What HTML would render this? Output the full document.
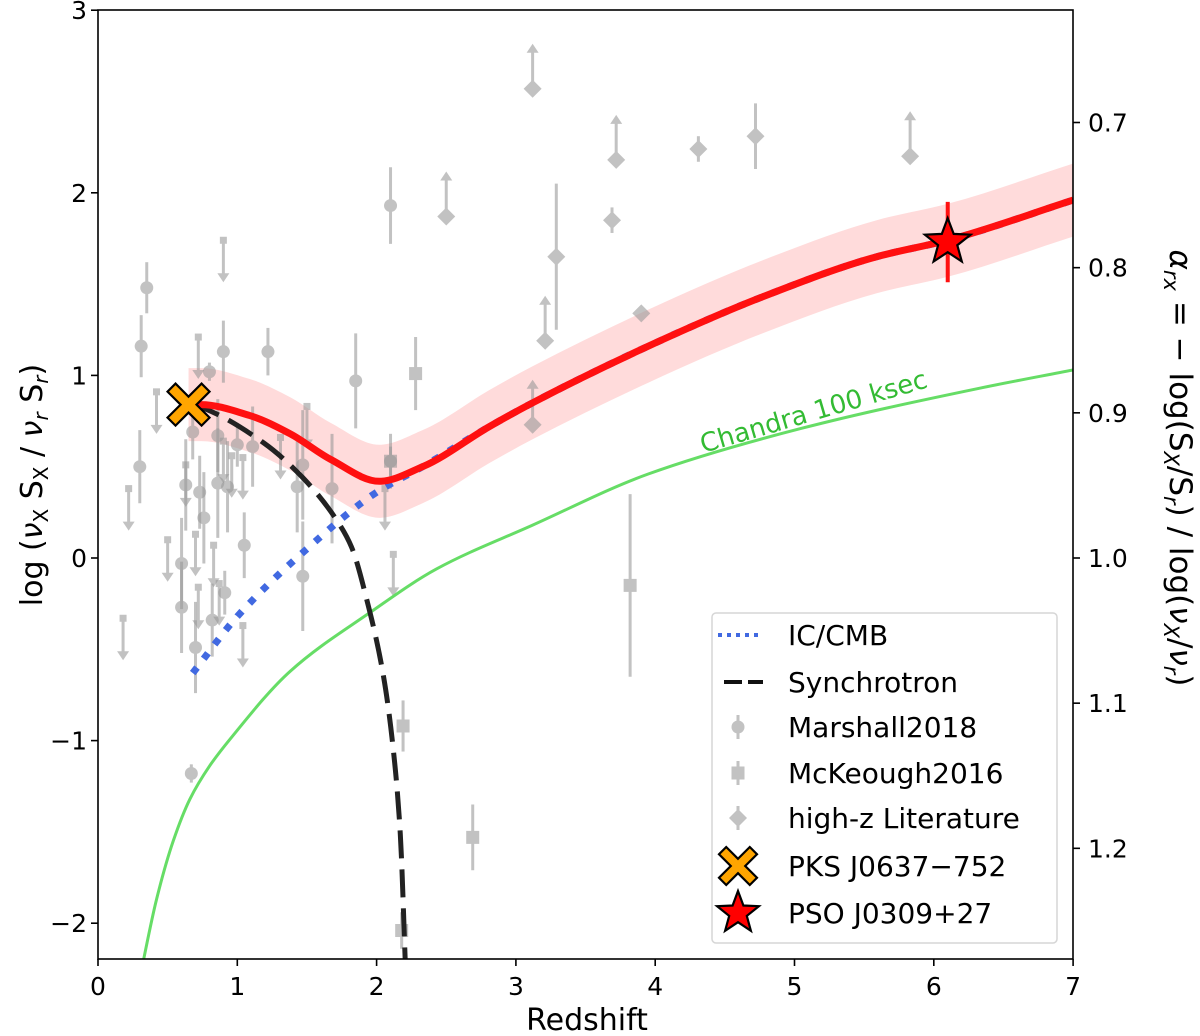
<!DOCTYPE html>
<html><head><meta charset="utf-8"><title>Jet X-ray to radio ratio vs redshift</title>
<style>
html,body{margin:0;padding:0;background:#fff;}
svg{display:block;font-family:"DejaVu Sans","Liberation Sans",sans-serif;}
</style></head>
<body>
<svg id="chart" width="1200" height="1036" viewBox="0 0 1200 1036" xmlns="http://www.w3.org/2000/svg">
  <defs><clipPath id="plotclip"><rect x="98" y="10" width="975" height="949"/></clipPath></defs>
  <g id="band" clip-path="url(#plotclip)"></g>
  <g id="points" clip-path="url(#plotclip)"></g>
  <g id="lines" clip-path="url(#plotclip)"></g>
  <g id="axes"></g>
  <g id="legend"></g>
</svg>
<script>
// ---------- data ----------
const modelZ   = [0.65,0.74,1.09,1.38,1.67,2.02,2.33,2.81,3.12,3.95,4.77,5.59,6.1,7.0];
const modelY   = [0.84,0.84,0.78,0.68,0.54,0.42,0.50,0.72,0.85,1.16,1.43,1.65,1.74,1.96];
const bandHalf = 0.2;
const icZ      = [0.68,1.0,1.5,2.0,2.33,2.81,3.12,3.95,4.77,5.59,6.1,7.0];
const icY      = [-0.63,-0.32,0.05,0.36,0.50,0.72,0.85,1.16,1.43,1.65,1.74,1.96];
const syncZ    = [0.68,0.76,1.19,1.47,1.72,1.82,1.93,2.05,2.12,2.17,2.21];
const syncY    = [0.84,0.82,0.63,0.44,0.20,0.06,-0.23,-0.65,-1.05,-1.51,-2.3];
const chandraZ = [0.30,0.42,0.54,0.66,0.80,0.95,1.38,1.95,2.43,3.12,3.95,5.05,6.33,7.0];
const chandraY = [-2.3,-1.87,-1.55,-1.32,-1.14,-0.99,-0.62,-0.30,-0.06,0.18,0.46,0.71,0.93,1.03];
// Marshall2018 detections
const marZ   = [0.35,0.31,0.90,1.22,0.80,1.85,0.30,0.68,0.86,1.00,1.11,1.47,2.10,0.63,0.73,0.86,0.93,1.43,1.68,0.76,1.05,0.60,1.47,0.91,0.60,0.82,0.70,0.67,2.10];
const marY   = [1.48,1.16,1.13,1.13,1.02,0.97,0.50,0.69,0.67,0.62,0.61,0.51,0.53,0.40,0.36,0.41,0.39,0.39,0.38,0.22,0.07,-0.03,-0.10,-0.19,-0.27,-0.34,-0.49,-1.18,1.93];
const marErr = [0.14,0.17,0.17,0.13,0.05,0.26,0.20,0.15,0.20,0.12,0.22,0.30,0.15,0.25,0.20,0.30,0.25,0.25,0.30,0.25,0.18,0.25,0.30,0.12,0.25,0.20,0.25,0.05,0.21];
// Marshall2018 upper limits
const limZ = [0.90,0.42,0.72,1.50,1.31,0.63,0.22,1.04,0.50,0.70,0.83,0.87,0.72,1.04,0.18,2.06,2.12,0.96,0.90];
const limY = [1.74,0.91,1.21,0.83,0.66,0.51,0.38,0.55,0.10,0.13,0.07,-0.14,-0.16,-0.37,-0.33,0.38,0.02,0.56,0.64];
// McKeough2016
const mckZ   = [2.28,2.19,2.69,2.18,3.82,2.10];
const mckY   = [1.01,-0.92,-1.53,-2.04,-0.15,0.53];
const mckErr = [0.20,0.14,0.18,0.10,0.50,0.08];
// high-z literature
const hzZ   = [3.12,2.50,3.72,4.31,4.72,5.83,3.69,3.29,3.90,3.21,3.12];
const hzY   = [2.57,1.87,2.18,2.24,2.31,2.20,1.85,1.65,1.34,1.19,0.73];
const hzErr = [0,0,0,0.07,0.18,0,0.07,0.40,0,0,0];
const hzUp  = [1,1,1,0,0,1,0,0,0,1,1];
const pksZ = [0.65], pksY = [0.84];
const psoZ = [6.1], psoY = [1.73], psoErr = [0.22];
const xTicks = [0,1,2,3,4,5,6,7];
const yTicks = [-2,-1,0,1,2,3];
const alphaTicks = [0.7,0.8,0.9,1.0,1.1,1.2];
const alphaL = 7.95;

// ---------- scales ----------
const X = z => 98 + z*139.3;
const Y = v => 558 - v*182.6;
const NS = "http://www.w3.org/2000/svg";
function mk(tag, attrs, parent){const e=document.createElementNS(NS,tag);for(const k in attrs)e.setAttribute(k,attrs[k]);parent.appendChild(e);return e;}
// monotone cubic (Fritsch-Carlson) in x
function smooth(zs, ys, reverse){
  const n=zs.length, xs=zs.map(X), yv=ys.map(Y);
  const d=[], m=new Array(n);
  for(let i=0;i<n-1;i++) d.push((yv[i+1]-yv[i])/(xs[i+1]-xs[i]));
  m[0]=d[0]; m[n-1]=d[n-2];
  for(let i=1;i<n-1;i++){ if(d[i-1]*d[i]<=0) m[i]=0; else { const w1=2*(xs[i+1]-xs[i])+(xs[i]-xs[i-1]), w2=(xs[i+1]-xs[i])+2*(xs[i]-xs[i-1]); m[i]=(w1+w2)/(w1/d[i-1]+w2/d[i]); } }
  const segs=[];
  for(let i=0;i<n-1;i++){const h=xs[i+1]-xs[i];segs.push([xs[i],yv[i],xs[i]+h/3,yv[i]+m[i]*h/3,xs[i+1]-h/3,yv[i+1]-m[i+1]*h/3,xs[i+1],yv[i+1]]);}
  if(!reverse){ let s=`M${xs[0]},${yv[0]}`; segs.forEach(g=>s+=` C${g[2]},${g[3]} ${g[4]},${g[5]} ${g[6]},${g[7]}`); return s; }
  let s=`L${xs[n-1]},${yv[n-1]}`; for(let i=segs.length-1;i>=0;i--){const g=segs[i]; s+=` C${g[4]},${g[5]} ${g[2]},${g[3]} ${g[0]},${g[1]}`;} return s;
}
const band=document.getElementById('band'), pts=document.getElementById('points'),
      lines=document.getElementById('lines'), axes=document.getElementById('axes'), leg=document.getElementById('legend');
const GRAY = "#9a9a9a", GOP = 0.6;

// band
{
  const up = modelY.map(v=>v+bandHalf), lo = modelY.map(v=>v-bandHalf);
  const b = mk('path',{d:smooth(modelZ, up)+' '+smooth(modelZ, lo, true)+' Z',fill:'#ffcccc','fill-opacity':0.7},band);
  
  
}
// Marshall detections
marZ.forEach((z,i)=>{
  const g=mk('g',{opacity:GOP},pts);
  
  
  mk('line',{x1:X(z),x2:X(z),y1:Y(marY[i]+marErr[i]),y2:Y(marY[i]-marErr[i]),stroke:GRAY,'stroke-width':3},g);
  mk('circle',{cx:X(z),cy:Y(marY[i]),r:6.5,fill:GRAY},g);
});
// upper limits
limZ.forEach((z,i)=>{
  const g=mk('g',{opacity:GOP},pts);
  
  
  const x=X(z), y=Y(limY[i]), tip=y+42;
  mk('line',{x1:x,x2:x,y1:y,y2:tip-4,stroke:GRAY,'stroke-width':3},g);
  mk('rect',{x:x-3.5,y:y-3.5,width:7,height:7,fill:GRAY},g);
  mk('path',{d:`M${x-6},${tip-9} L${x},${tip} L${x+6},${tip-9} Z`,fill:GRAY},g);
});
// McKeough
mckZ.forEach((z,i)=>{
  const g=mk('g',{opacity:GOP},pts);
  
  
  mk('line',{x1:X(z),x2:X(z),y1:Y(mckY[i]+mckErr[i]),y2:Y(mckY[i]-mckErr[i]),stroke:GRAY,'stroke-width':3},g);
  mk('rect',{x:X(z)-6.5,y:Y(mckY[i])-6.5,width:13,height:13,fill:GRAY},g);
});
// high-z
hzZ.forEach((z,i)=>{
  const g=mk('g',{opacity:GOP},pts);
  
  
  const x=X(z), y=Y(hzY[i]);
  if(hzErr[i]>0) mk('line',{x1:x,x2:x,y1:Y(hzY[i]+hzErr[i]),y2:Y(hzY[i]-hzErr[i]),stroke:GRAY,'stroke-width':3},g);
  if(hzUp[i]){ const tip=y-45;
    mk('line',{x1:x,x2:x,y1:y,y2:tip+4,stroke:GRAY,'stroke-width':3},g);
    mk('path',{d:`M${x-6},${tip+9} L${x},${tip} L${x+6},${tip+9} Z`,fill:GRAY},g);}
  mk('path',{d:`M${x},${y-9} L${x+9},${y} L${x},${y+9} L${x-9},${y} Z`,fill:GRAY},g);
});
// lines
{
  let e;
  e=mk('path',{d:smooth(chandraZ,chandraY),fill:'none',stroke:'#66dd66','stroke-width':3},lines);
   
  e=mk('path',{d:smooth(icZ,icY),fill:'none',stroke:'#4169e1','stroke-width':7,'stroke-dasharray':'7 11'},lines);
   
  e=mk('path',{d:smooth(syncZ,syncY),fill:'none',stroke:'#222','stroke-width':5,'stroke-dasharray':'28 11'},lines);
   
  e=mk('path',{d:smooth(modelZ,modelY),fill:'none',stroke:'#ff1010','stroke-width':7},lines);
   
  e=mk('line',{x1:X(psoZ[0]),x2:X(psoZ[0]),y1:Y(psoY[0]+psoErr[0]),y2:Y(psoY[0]-psoErr[0]),stroke:'#ff1010','stroke-width':4},lines);
   
}
function xMarker(cx,cy,s,parent){
  const w=s*0.38, L=s*1.0;
  const P=[[0,-w],[L-w,-L],[L,-L+w],[w,0],[L,L-w],[L-w,L],[0,w],[-L+w,L],[-L,L-w],[-w,0],[-L,-L+w],[-L+w,-L]];
  return mk('path',{d:'M'+P.map(p=>(cx+p[0])+','+(cy+p[1])).join(' L')+' Z',fill:'#ffa500',stroke:'#000','stroke-width':2.2,'stroke-linejoin':'miter'},parent);
}
function star(cx,cy,R,parent){
  const r=R*0.42; let P=[];
  for(let k=0;k<10;k++){const ang=-Math.PI/2+k*Math.PI/5;const rr=k%2?r:R;P.push((cx+rr*Math.cos(ang)).toFixed(1)+','+(cy+rr*Math.sin(ang)).toFixed(1));}
  return mk('path',{d:'M'+P.join(' L')+' Z',fill:'#ff0000',stroke:'#000','stroke-width':2.2},parent);
}
{
  let e=xMarker(X(pksZ[0]),Y(pksY[0]),21,lines);
   
  e=star(X(psoZ[0]),Y(psoY[0]),24,lines);
   
}
// Chandra label
{
  const t=mk('text',{x:0,y:0,transform:'translate(816,420) rotate(-16.3)','text-anchor':'middle','font-size':26,fill:'#33bb33'},lines);
  t.textContent='Chandra 100 ksec';
   
}
// axes frame
{
  const f=mk('rect',{x:98,y:10,width:975,height:949,fill:'none',stroke:'#000','stroke-width':1.6},axes);
   
  xTicks.forEach(v=>{
    const x=X(v);
    mk('line',{x1:x,x2:x,y1:959,y2:966,stroke:'#000','stroke-width':1.6},axes);
    const t=mk('text',{x:x,y:995,'text-anchor':'middle','font-size':25},axes);
    t.textContent=v;
     
  });
  yTicks.forEach(v=>{
    const y=Y(v);
    mk('line',{x1:91,x2:98,y1:y,y2:y,stroke:'#000','stroke-width':1.6},axes);
    const t=mk('text',{x:87,y:y+9,'text-anchor':'end','font-size':25},axes);
    t.textContent=(v<0?'\u2212'+(-v):v);
     
  });
  alphaTicks.forEach(a=>{
    const y=Y((1-a)*alphaL);
    mk('line',{x1:1073,x2:1080,y1:y,y2:y,stroke:'#000','stroke-width':1.6},axes);
    const t=mk('text',{x:1088,y:y+9,'font-size':25},axes);
    t.textContent=a.toFixed(1);
     
  });
  let t=mk('text',{x:587,y:1030,'text-anchor':'middle','font-size':30},axes);
  t.textContent='Redshift';
   
  t=mk('text',{x:0,y:0,transform:'translate(42,485) rotate(-90)','text-anchor':'middle','font-size':30},axes);
  t.innerHTML='log (<tspan font-style="italic">ν</tspan><tspan font-size="20" dy="6">X</tspan><tspan dy="-6"> S</tspan><tspan font-size="20" dy="6">X</tspan><tspan dy="-6">  /  </tspan><tspan font-style="italic">ν</tspan><tspan font-size="20" font-style="italic" dy="6">r</tspan><tspan dy="-6"> S</tspan><tspan font-size="20" font-style="italic" dy="6">r</tspan><tspan dy="-6">)</tspan>';
   
  t=mk('text',{x:0,y:0,transform:'translate(1170,468) rotate(90)','text-anchor':'middle','font-size':31},axes);
  t.innerHTML='<tspan font-style="italic">α</tspan><tspan font-size="21" font-style="italic" dy="6">rx</tspan><tspan dy="-6"> = − log(S</tspan><tspan font-size="21" font-style="italic" dy="6">X</tspan><tspan dy="-6">/S</tspan><tspan font-size="21" font-style="italic" dy="6">r</tspan><tspan dy="-6">) / log(</tspan><tspan font-style="italic">ν</tspan><tspan font-size="21" font-style="italic" dy="6">X</tspan><tspan dy="-6">/</tspan><tspan font-style="italic">ν</tspan><tspan font-size="21" font-style="italic" dy="6">r</tspan><tspan dy="-6">)</tspan>';
   
}
// legend
{
  const box=mk('rect',{x:712,y:613,width:345,height:330,rx:4,fill:'#fff','fill-opacity':0.85,stroke:'#d6d6d6','stroke-width':1.5},leg);
   
  const labels=['IC/CMB','Synchrotron','Marshall2018','McKeough2016','high-z Literature','PKS J0637\u2212752','PSO J0309+27'];
  const rows=[635,682,727,773,818,866,913];
  const hx=738;
  labels.forEach((lab,i)=>{
    const y=rows[i];
    const g=mk('g',{},leg);
    
    
    if(i===0) mk('line',{x1:718,x2:763,y1:y,y2:y,stroke:'#4169e1','stroke-width':4,'stroke-dasharray':'4 5'},g);
    if(i===1) mk('line',{x1:718,x2:763,y1:y,y2:y,stroke:'#111','stroke-width':4,'stroke-dasharray':'18 6','stroke-dashoffset':'-6'},g);
    if(i===2){const s=mk('g',{opacity:GOP},g);mk('line',{x1:hx,x2:hx,y1:y-12,y2:y+12,stroke:GRAY,'stroke-width':3},s);mk('circle',{cx:hx,cy:y,r:6.5,fill:GRAY},s);}
    if(i===3){const s=mk('g',{opacity:GOP},g);mk('line',{x1:hx,x2:hx,y1:y-12,y2:y+12,stroke:GRAY,'stroke-width':3},s);mk('rect',{x:hx-6.5,y:y-6.5,width:13,height:13,fill:GRAY},s);}
    if(i===4){const s=mk('g',{opacity:GOP},g);mk('line',{x1:hx,x2:hx,y1:y-12,y2:y+12,stroke:GRAY,'stroke-width':3},s);mk('path',{d:`M${hx},${y-9} L${hx+9},${y} L${hx},${y+9} L${hx-9},${y} Z`,fill:GRAY},s);}
    if(i===5) xMarker(hx,y,19,g);
    if(i===6) star(hx,y,22,g);
    const t=mk('text',{x:788,y:y+10,'font-size':28},g);
    t.textContent=lab;
  });
}
</script>
</body></html>
